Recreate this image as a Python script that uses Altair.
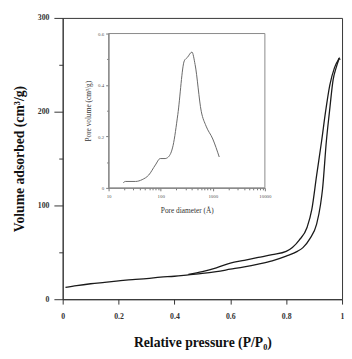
import altair as alt
import pandas as pd

# Main isotherm: adsorption branch
ads_p = [0.01, 0.05, 0.1, 0.15, 0.2, 0.25, 0.3, 0.35, 0.4, 0.45, 0.5, 0.55, 0.6, 0.65, 0.7,
         0.75, 0.8, 0.84, 0.86, 0.885, 0.909, 0.923, 0.93, 0.944, 0.955, 0.968, 0.979, 0.99]
ads_v = [12.5, 14.5, 16.5, 18, 19.5, 21, 22, 23.5, 24.5, 26, 27.5, 29.5, 32, 34.5, 37.5,
         41, 46, 51, 55, 64.6, 80, 101, 117, 169, 200, 234, 247, 257]
# Desorption branch
des_p = [0.45, 0.5, 0.55, 0.6, 0.65, 0.7, 0.75, 0.8, 0.846, 0.875, 0.892, 0.909, 0.927,
         0.941, 0.956, 0.973, 0.99]
des_v = [26.5, 29.5, 33.5, 38.5, 41.5, 44.5, 47.5, 51, 62.8, 76.8, 96, 132, 169, 200, 228, 247, 257]

# Inset: pore size distribution
pore_d = [19, 21, 33, 44, 59, 79, 98, 121, 140, 173, 213, 284, 325, 398, 457, 600, 744, 1000, 1330]
pore_v = [0.019, 0.025, 0.025, 0.032, 0.05, 0.089, 0.114, 0.114, 0.12, 0.165, 0.285, 0.494,
          0.507, 0.528, 0.48, 0.298, 0.24, 0.19, 0.12]

main_x_ticks = [0, 0.1, 0.2, 0.3, 0.4, 0.5, 0.6, 0.7, 0.8, 0.9, 1]
main_y_ticks = [0, 50, 100, 150, 200, 250, 300]
inset_y_ticks = [0, 0.1, 0.2, 0.3, 0.4, 0.5, 0.6]
inset_x_ticks = [d * k for d in (10, 100, 1000) for k in range(1, 10)] + [10000]

iso = pd.DataFrame({
    "p": ads_p + des_p,
    "v": ads_v + des_v,
    "branch": ["ads"] * len(ads_p) + ["des"] * len(des_p),
})
pore = pd.DataFrame({"d": pore_d, "pv": pore_v})
frame = pd.DataFrame({"d": [10], "d2": [10000], "pv": [0], "pv2": [0.6]})
top = pd.DataFrame({"p": [0.99], "v": [257]})

FONT = "Liberation Serif"

main_x = alt.X(
    "p:Q",
    scale=alt.Scale(domain=[0, 1], nice=False),
    axis=alt.Axis(
        values=main_x_ticks,
        labelExpr="abs(datum.value*5 - round(datum.value*5)) < 0.001 ? format(datum.value, '~g') : ''",
        tickSize={"condition": {"test": "abs(datum.value*5 - round(datum.value*5)) < 0.001", "value": 5}, "value": 3},
        title="Relative pressure (P/P\u2080)",
        titleFontSize=14, titleFontWeight="bold", titleFont=FONT, titleColor="#111",
        labelFont=FONT, labelFontSize=8, labelFontWeight="bold", labelColor="#333",
        labelPadding=9, titlePadding=15, domainColor="#333", tickColor="#333",
        orient="bottom", labelOverlap=False, labelFlush=False,
    ),
)
main_y = alt.Y(
    "v:Q",
    scale=alt.Scale(domain=[0, 300], nice=False),
    axis=alt.Axis(
        values=main_y_ticks,
        labelExpr="datum.value % 100 === 0 ? datum.label : ''",
        tickSize={"condition": {"test": "datum.value % 100 === 0", "value": 9}, "value": 4},
        title="Volume adsorbed (cm\u00b3/g)",
        titleFontSize=14, titleFontWeight="bold", titleFont=FONT, titleColor="#111",
        labelFont=FONT, labelFontSize=8, labelFontWeight="bold", labelColor="#333",
        labelPadding=5, titlePadding=11, domainColor="#333", tickColor="#333",
        orient="left", labelOverlap=False,
    ),
)

main = alt.Chart(iso).mark_line(color="#1a1a1a", strokeWidth=1.3, interpolate="monotone").encode(
    x=main_x, y=main_y, detail="branch:N"
)
arrow = alt.Chart(top).mark_point(shape="triangle-up", filled=True, size=12, color="#1a1a1a").encode(
    x=alt.X("p:Q"), y=alt.Y("v:Q")
)
main_layer = alt.layer(main, arrow)

inset_x = alt.X(
    "d:Q",
    scale=alt.Scale(type="log", domain=[10, 10000], range=[47, 207], nice=False),
    axis=alt.Axis(
        values=inset_x_ticks,
        labelExpr="abs(log(datum.value)/LN10 - round(log(datum.value)/LN10)) < 0.001 ? format(datum.value, 'd') : ''",
        tickSize={"condition": {"test": "abs(log(datum.value)/LN10 - round(log(datum.value)/LN10)) < 0.001", "value": 3}, "value": 2},
        title="Pore diameter (\u00c5)",
        titleFontSize=7.5, titleFontWeight="normal", titleFont=FONT, titleColor="#333",
        labelFont=FONT, labelFontSize=5, labelColor="#555",
        labelPadding=3, titlePadding=8, domainColor="#777", tickColor="#777",
        orient="bottom", offset=-114, labelOverlap=False, labelFlush=False,
    ),
)
inset_y = alt.Y(
    "pv:Q",
    scale=alt.Scale(domain=[0, 0.6], range=[174, 16], nice=False),
    axis=alt.Axis(
        values=inset_y_ticks,
        labelExpr="abs(datum.value*5 - round(datum.value*5)) < 0.001 ? format(datum.value, '~g') : ''",
        tickSize={"condition": {"test": "abs(datum.value*5 - round(datum.value*5)) < 0.001", "value": 3}, "value": 2},
        title="Pore volume (cm\u00b3/g)",
        titleFontSize=7.5, titleFontWeight="normal", titleFont=FONT, titleColor="#333",
        labelFont=FONT, labelFontSize=5, labelColor="#555",
        labelPadding=2, titlePadding=5, domainColor="#777", tickColor="#777",
        orient="left", offset=-47, labelOverlap=False,
    ),
)

inset_frame = alt.Chart(frame).mark_rect(fillOpacity=0, stroke="#888", strokeWidth=1).encode(
    x=inset_x, x2="d2:Q", y=inset_y, y2="pv2:Q"
)
inset_line = alt.Chart(pore).mark_line(color="#666", strokeWidth=1, interpolate="monotone").encode(
    x=inset_x, y=inset_y
)
inset_layer = alt.layer(inset_frame, inset_line)

chart = alt.layer(main_layer, inset_layer).resolve_scale(
    x="independent", y="independent"
).resolve_axis(
    x="independent", y="independent"
).properties(
    width=286, height=288,
    autosize=alt.AutoSizeParams(type="none"),
    padding={"left": 56, "top": 6, "right": 2, "bottom": 55},
    background="white",
).configure_view(
    stroke="#333", strokeWidth=1
).configure_axis(grid=False)

chart.save("out.html", embed_options={"renderer": "svg", "actions": False})
